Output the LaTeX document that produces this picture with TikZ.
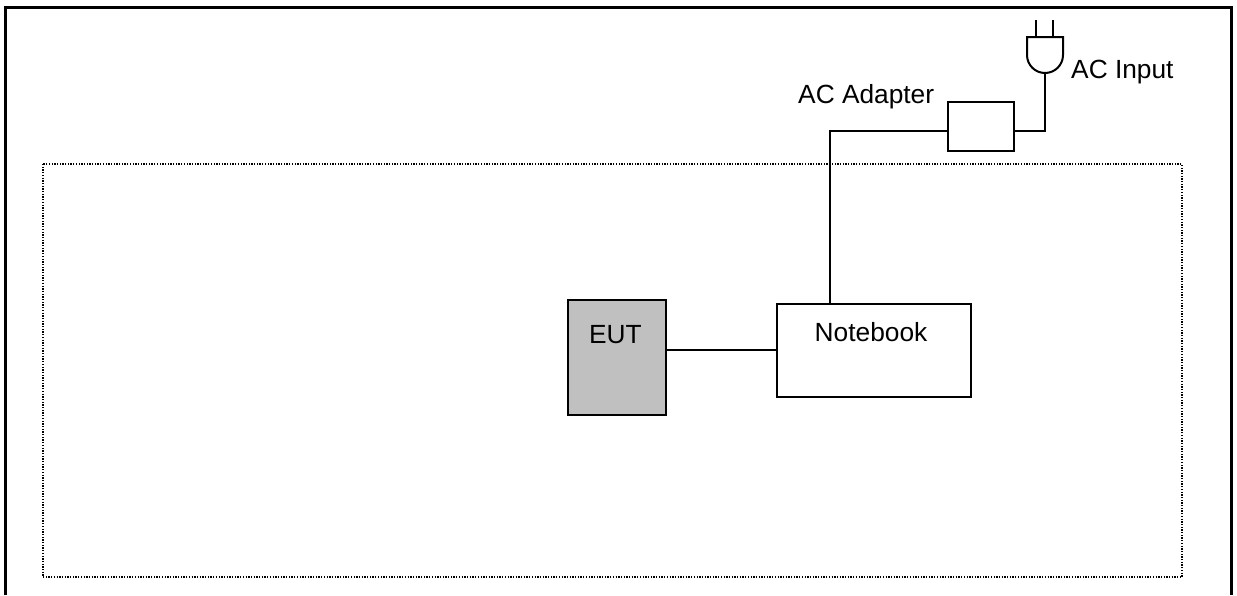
\documentclass[tikz,border=0pt]{standalone}
\usepackage{fontspec}
\setmainfont{Liberation Sans}
\begin{document}
\begin{tikzpicture}[x=1pt,y=-1pt,
  txt/.style={font=\fontsize{26.3}{30}\selectfont, inner sep=0pt},
  wire/.style={line width=2pt},
  boxd/.style={draw, line width=2pt, inner sep=0pt}]
\useasboundingbox (0,0) rectangle (1237,595);
% outer frame (open at bottom)
\draw[line width=3pt] (5.5,595) -- (5.5,7.5) -- (1231.5,7.5) -- (1231.5,595);
% dotted area
\draw[line width=1.6pt, dash pattern=on 1.3pt off 1.4pt] (43,164) rectangle (1182,577);
% boxes
\node[boxd, fill={rgb,255:red,192;green,192;blue,192}, minimum width=98pt, minimum height=115pt] (eut) at (617,357.5) {};
\node[txt] (euttxt) at (615.5,335) {EUT};
\node[boxd, fill=white, minimum width=194pt, minimum height=93pt] (nb) at (874,350.5) {};
\node[txt] (nbtxt) at (871,332) {Notebook};
\node[boxd, minimum width=66pt, minimum height=49pt] (ad) at (981,126.5) {};
\node[txt, anchor=base west] (adtxt) at (798,103) {AC Adapter};
\node[txt, anchor=base west] (intxt) at (1071,78) {AC Input};
% plug
\coordinate (plugbot) at (1045,73);
\draw[wire] (1036,20) -- (1036,37);
\draw[wire] (1053,20) -- (1053,37);
\draw[wire] (1027,37) -- (1063,37) -- (1063,55) arc[start angle=0, end angle=-180, radius=18pt] -- cycle;
% connectors
\coordinate (c1) at (1045,131);
\draw[wire] (plugbot) -- (c1) -- (ad.east |- c1);
\coordinate (c2) at (830,131);
\draw[wire] (ad.west |- c2) -- (c2) -- (c2 |- nb.north);
\draw[wire] (eut.east |- 0,350) -- (nb.west |- 0,350);
\end{tikzpicture}
\end{document}
